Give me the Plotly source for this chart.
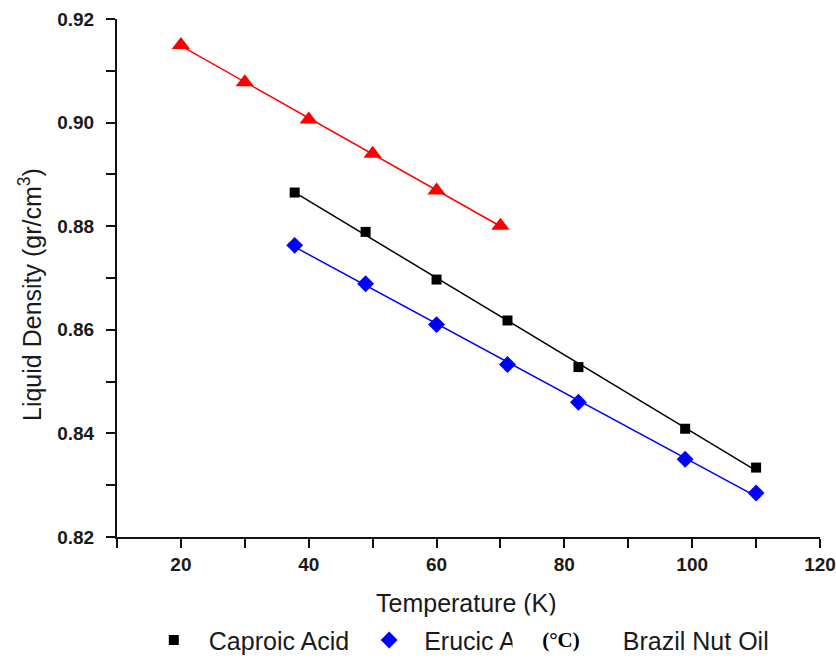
import numpy as np
import plotly.graph_objects as go

# Temperatures (°C) and measured liquid densities (g/cm3)
temp_brazil = [20, 30, 40, 50, 60, 70]
dens_brazil = [0.9150, 0.9078, 0.9006, 0.8940, 0.8869, 0.8801]

temp_acids = [37.8, 48.9, 60.0, 71.1, 82.2, 98.9, 110.0]
dens_caproic = [0.8865, 0.8789, 0.8697, 0.8618, 0.8528, 0.8409, 0.8334]
dens_erucic = [0.8763, 0.8689, 0.8610, 0.8533, 0.8460, 0.8350, 0.8285]

x_tick_vals = [10, 20, 30, 40, 50, 60, 70, 80, 90, 100, 110, 120]
x_tick_text = ["", "20", "", "40", "", "60", "", "80", "", "100", "", "120"]
y_tick_vals = [0.82, 0.83, 0.84, 0.85, 0.86, 0.87, 0.88, 0.89, 0.90, 0.91, 0.92]
y_tick_text = ["0.82", "", "0.84", "", "0.86", "", "0.88", "", "0.90", "", "0.92"]

series = [
    ("Caproic Acid", temp_acids, dens_caproic, "#000000", "square", 10),
    ("Erucic Acid", temp_acids, dens_erucic, "#0000FF", "diamond", 13),
    ("Brazil Nut Oil", temp_brazil, dens_brazil, "#FF0000", "triangle-up", 16),
]

fig = go.Figure()
for name, t, d, color, symbol, size in series:
    t_arr = np.asarray(t)
    slope, icpt = np.polyfit(t_arr, np.asarray(d), 1)
    t_fit = np.array([t_arr.min(), t_arr.max()])
    # least-squares line through each data set
    fig.add_trace(go.Scatter(
        x=t_fit, y=slope * t_fit + icpt, mode="lines",
        line=dict(color=color, width=1.5), showlegend=False, hoverinfo="skip",
    ))
    fig.add_trace(go.Scatter(
        x=t, y=d, mode="markers", name=name,
        marker=dict(symbol=symbol, size=size, color=color, line=dict(width=0)),
    ))

TEXT = "#1a1a1a"
tick_font = dict(family="Liberation Sans, Arial", size=19, color=TEXT, weight="bold")
axis_common = dict(
    showline=True, linecolor="#111111", linewidth=2,
    ticks="outside", ticklen=9, tickwidth=2, tickcolor="#111111",
    showgrid=False, zeroline=False, tickfont=tick_font, automargin=False,
)
mirror_common = dict(
    showticklabels=False, showline=True, linecolor="#111111", linewidth=2,
    ticks="inside", ticklen=8, tickwidth=2, tickcolor="#111111",
    showgrid=False, zeroline=False, automargin=False,
)

fig.update_layout(
    width=836, height=658,
    margin=dict(l=117, r=16, t=19, b=121, autoexpand=False),
    paper_bgcolor="white", plot_bgcolor="white",
    xaxis=dict(range=[10, 120], tickvals=x_tick_vals, ticktext=x_tick_text,
               ticklabelstandoff=0, **axis_common),
    yaxis=dict(range=[0.82, 0.92], tickvals=y_tick_vals, ticktext=y_tick_text,
               ticklabelstandoff=8, **axis_common),
    xaxis2=dict(overlaying="x", side="top", matches="x", range=[10, 120],
                tickvals=x_tick_vals, **mirror_common),
    yaxis2=dict(overlaying="y", side="right", matches="y", range=[0.82, 0.92],
                tickvals=y_tick_vals, **mirror_common),
    legend=dict(orientation="h", x=0.031, xanchor="left",
                y=0.027, yref="container", yanchor="middle",
                font=dict(family="Liberation Sans, Arial", size=25, color=TEXT),
                bgcolor="rgba(0,0,0,0)", itemwidth=60, tracegroupgap=0),
    annotations=[
        dict(text="Temperature (K)", xref="paper", yref="paper",
             x=(466 - 117) / 703, y=-(603 - 537) / 518,
             xanchor="center", yanchor="middle", showarrow=False,
             font=dict(family="Liberation Sans, Arial", size=25, color=TEXT)),
        dict(text="Liquid Density (gr/cm<sup>3</sup>)", xref="paper", yref="paper",
             x=-(117 - 30) / 703, y=(537 - 295) / 518,
             xanchor="center", yanchor="middle", textangle=-90, showarrow=False,
             font=dict(family="Liberation Sans, Arial", size=25, color=TEXT)),
        dict(text="<b>(°C)</b>", xref="paper", yref="paper",
             x=(561 - 117) / 703, y=-(640 - 537) / 518,
             xanchor="center", yanchor="middle", showarrow=False,
             width=94, height=46, bgcolor="white",
             font=dict(family="Liberation Serif, Times New Roman", size=21, color="black")),
    ],
)

fig.write_html("out.html")
